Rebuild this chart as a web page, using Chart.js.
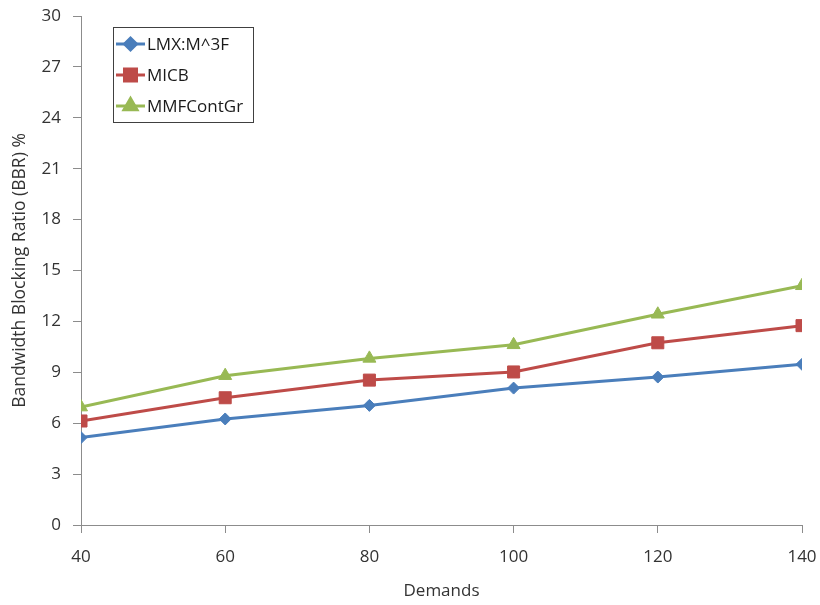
<!DOCTYPE html>
<html>
<head>
<meta charset="utf-8">
<script src="https://cdn.jsdelivr.net/npm/chart.js@4/dist/chart.umd.min.js"></script>
<style>
  html, body { margin: 0; padding: 0; background: #fff; }
  #wrap { width: 820px; height: 605px; }
</style>
</head>
<body>
<div id="wrap"><canvas id="c" width="820" height="605"></canvas></div>
<script>
const demands = [40, 60, 80, 100, 120, 140];
const lmxValues = [5.15, 6.25, 7.05, 8.07, 8.72, 9.47];
const micbValues = [6.13, 7.5, 8.54, 9.02, 10.74, 11.75];
const mmfValues = [6.95, 8.8, 9.82, 10.62, 12.42, 14.1];
const seriesNames = ['LMX:M^3F', 'MICB', 'MMFContGr'];

const FONT = '"Open Sans", sans-serif';
const TEXT = '#333333';
const AXIS = '#8c8c8c';

function toPoints(vals) {
  return demands.map((d, i) => ({ x: d, y: vals[i] }));
}

// Boxed legend drawn in the upper-left corner of the plot
const boxLegend = {
  id: 'boxLegend',
  afterDraw(chart) {
    const ctx = chart.ctx;
    const x0 = 113, y0 = 27, w = 140, h = 95;
    ctx.save();
    ctx.fillStyle = '#fff';
    ctx.fillRect(x0, y0, w, h);
    ctx.strokeStyle = '#404040';
    ctx.lineWidth = 1;
    ctx.strokeRect(x0 + 0.5, y0 + 0.5, w, h);
    ctx.font = '17px ' + FONT;
    ctx.textBaseline = 'middle';
    chart.data.datasets.forEach((ds, i) => {
      const y = 44 + i * 31;
      ctx.strokeStyle = ds.borderColor;
      ctx.lineWidth = 3;
      ctx.beginPath();
      ctx.moveTo(116, y);
      ctx.lineTo(145, y);
      ctx.stroke();
      ctx.fillStyle = ds.borderColor;
      Chart.helpers.drawPoint(ctx, {
        pointStyle: ds.pointStyle,
        radius: ds.pointRadius,
        borderWidth: 1,
      }, 130.5, y);
      ctx.fill();
      ctx.fillStyle = '#1a1a1a';
      ctx.fillText(ds.label, 147, y + 1);
    });
    ctx.restore();
  }
};

const mk = (label, vals, color, style, r) => ({
  label,
  data: toPoints(vals),
  borderColor: color,
  backgroundColor: color,
  pointBackgroundColor: color,
  pointBorderColor: color,
  borderWidth: 3,
  pointStyle: style,
  pointRadius: r,
  pointHoverRadius: r,
  pointBorderWidth: 1,
  tension: 0,
});

new Chart(document.getElementById('c'), {
  type: 'line',
  data: {
    datasets: [
      mk(seriesNames[0], lmxValues, '#4a7ebb', 'rectRot', 6),
      mk(seriesNames[1], micbValues, '#be4b48', 'rect', 8.5),
      mk(seriesNames[2], mmfValues, '#98b954', 'triangle', 7.5),
    ]
  },
  options: {
    responsive: false,
    animation: false,
    events: [],
    layout: { padding: { top: 16, right: 18, left: 0, bottom: 0 } },
    plugins: { legend: { display: false }, tooltip: { enabled: false } },
    scales: {
      x: {
        type: 'linear',
        min: 40, max: 140,
        afterFit(s) { s.height = 80; s.paddingLeft = 0; s.paddingRight = 0; },
        afterBuildTicks(s) { s.ticks = demands.map(v => ({ value: v })); },
        grid: { display: true, drawOnChartArea: false, drawTicks: true, tickLength: 8, color: AXIS },
        border: { display: true, color: AXIS, width: 1 },
        ticks: { font: { family: FONT, size: 17 }, color: TEXT, padding: 14, maxRotation: 0 },
        title: { display: true, text: 'Demands', font: { family: FONT, size: 17 }, color: TEXT, padding: { top: 4, bottom: 4 } },
      },
      y: {
        min: 0, max: 30,
        afterFit(s) { s.width = 81; s.paddingTop = 0; s.paddingBottom = 0; },
        grid: { display: true, drawOnChartArea: false, drawTicks: true, tickLength: 8, color: AXIS },
        border: { display: true, color: AXIS, width: 1 },
        ticks: { stepSize: 3, font: { family: FONT, size: 17 }, color: TEXT, padding: 12 },
        title: { display: true, text: 'Bandwidth Blocking Ratio (BBR) %', font: { family: FONT, size: 17.5 }, color: TEXT, padding: { top: 10, bottom: 4 } },
      }
    }
  },
  plugins: [boxLegend]
});
</script>
</body>
</html>
